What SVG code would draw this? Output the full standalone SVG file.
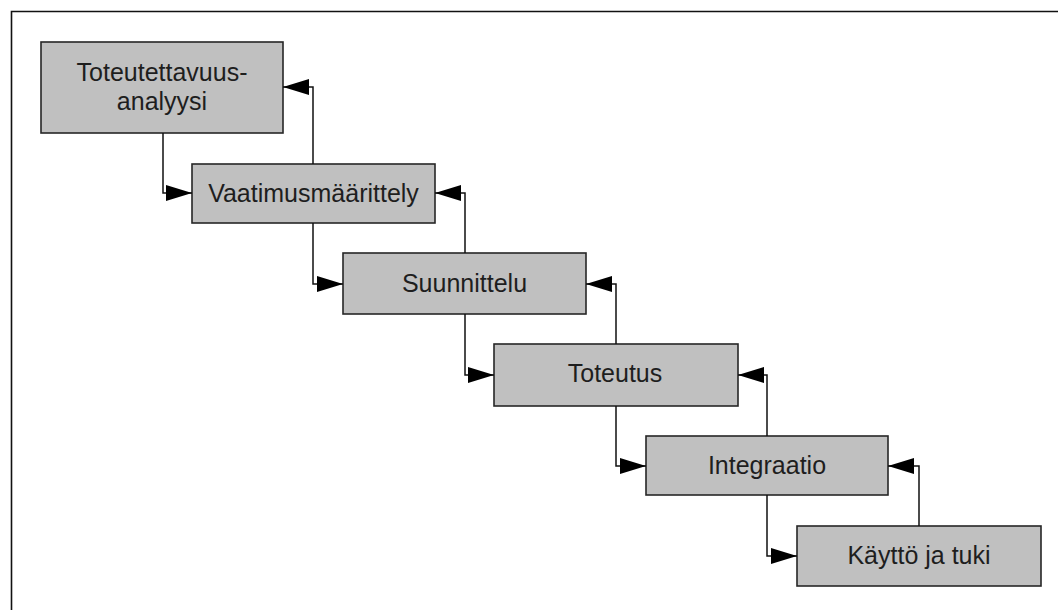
<svg xmlns="http://www.w3.org/2000/svg" width="1058" height="610" viewBox="0 0 1058 610">
  <style>
    .box { fill: #c0c0c0; stroke: #262626; stroke-width: 1.6; }
    .lbl { font-family: "Liberation Sans", Arial, sans-serif; font-size: 25px; fill: #1e1e1e; text-anchor: middle; }
    .wire { fill: none; stroke: #111; stroke-width: 1.5; }
  </style>
  <defs>
    <marker id="head" markerUnits="userSpaceOnUse" markerWidth="28" markerHeight="18" refX="26" refY="8" orient="auto">
      <path d="M0,0 L26,8 L0,16 Z" fill="#000"/>
    </marker>
  </defs>
  <rect width="1058" height="610" fill="#fff"/>
  <!-- outer frame -->
  <path d="M11.5,610 V11.5 H1058" fill="none" stroke="#111" stroke-width="1.6"/>

  <g id="n1">
    <rect class="box" x="41" y="42" width="242" height="91"/>
    <text class="lbl" x="162" y="81">Toteutettavuus-</text>
    <text class="lbl" x="162" y="110">analyysi</text>
  </g>
  <g id="n2">
    <rect class="box" x="192" y="164" width="243" height="59"/>
    <text class="lbl" x="313.5" y="201.5">Vaatimusmäärittely</text>
  </g>
  <g id="n3">
    <rect class="box" x="343" y="253" width="243" height="61"/>
    <text class="lbl" x="464.5" y="291.5">Suunnittelu</text>
  </g>
  <g id="n4">
    <rect class="box" x="494" y="344" width="244" height="62"/>
    <text class="lbl" x="615" y="382">Toteutus</text>
  </g>
  <g id="n5">
    <rect class="box" x="646" y="436" width="242" height="59"/>
    <text class="lbl" x="767" y="473.5">Integraatio</text>
  </g>
  <g id="n6">
    <rect class="box" x="797" y="526" width="244" height="60"/>
    <text class="lbl" x="919" y="564">Käyttö ja tuki</text>
  </g>

  <g id="connectors">
    <!-- forward flow -->
    <path class="wire" d="M163,133 V193 H192" marker-end="url(#head)"/>
    <path class="wire" d="M313,223 V284 H343" marker-end="url(#head)"/>
    <path class="wire" d="M465,314 V375 H494" marker-end="url(#head)"/>
    <path class="wire" d="M616,406 V466 H646" marker-end="url(#head)"/>
    <path class="wire" d="M767,495 V556 H797" marker-end="url(#head)"/>
    <!-- feedback -->
    <path class="wire" d="M313,164 V87 H283" marker-end="url(#head)"/>
    <path class="wire" d="M465,253 V193 H435" marker-end="url(#head)"/>
    <path class="wire" d="M616,344 V284 H586" marker-end="url(#head)"/>
    <path class="wire" d="M767,436 V375 H738" marker-end="url(#head)"/>
    <path class="wire" d="M919,526 V466 H888" marker-end="url(#head)"/>
  </g>
</svg>
